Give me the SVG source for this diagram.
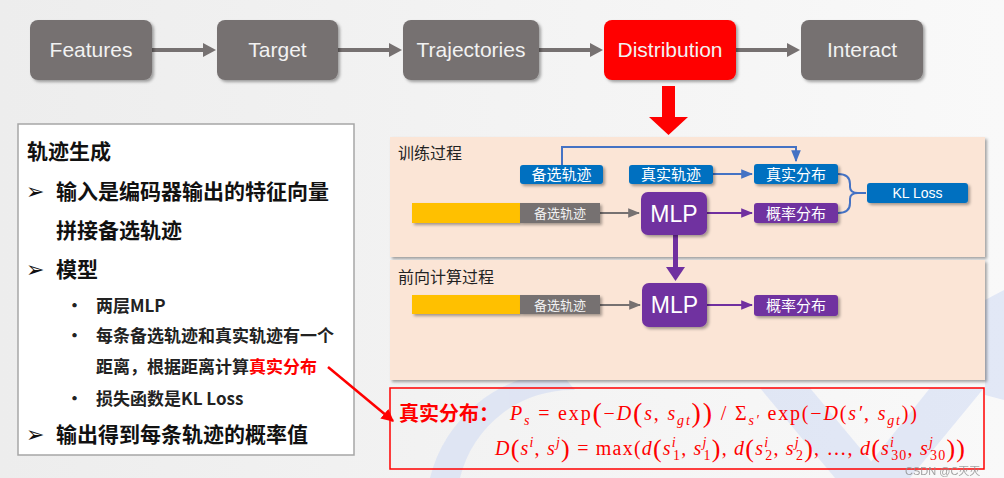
<svg xmlns="http://www.w3.org/2000/svg" width="1004" height="478" viewBox="0 0 1004 478">
<defs>
<linearGradient id="bg" x1="0" y1="0" x2="1" y2="0">
<stop offset="0" stop-color="#ededed"/>
<stop offset="1" stop-color="#f9f9f9"/>
</linearGradient>
<filter id="sh" x="-10%" y="-10%" width="130%" height="140%">
<feDropShadow dx="2" dy="2" stdDeviation="1.5" flood-color="#000" flood-opacity="0.35"/>
</filter>
<marker id="ag" viewBox="0 0 10 10" refX="9" refY="5" markerWidth="6" markerHeight="6" orient="auto"><path d="M0,1 L10,5 L0,9 z" fill="#767171"/></marker>
<marker id="ab" viewBox="0 0 10 10" refX="9" refY="5" markerWidth="6" markerHeight="6" orient="auto"><path d="M0,1 L10,5 L0,9 z" fill="#4472c4"/></marker>
<marker id="ap" viewBox="0 0 10 10" refX="9" refY="5" markerWidth="6" markerHeight="6" orient="auto"><path d="M0,1 L10,5 L0,9 z" fill="#7030a0"/></marker>
<marker id="ar" viewBox="0 0 10 10" refX="9" refY="5" markerWidth="5" markerHeight="5" orient="auto"><path d="M0,0 L10,5 L0,10 z" fill="#ff0000"/></marker>
</defs>
<style>
.top{fill:#767171;filter:url(#sh)}
.toptxt{font-family:"Liberation Sans",Arial,sans-serif;font-size:21px;fill:#f2f2f2;text-anchor:middle}
.lt{font-family:"Noto Sans CJK SC",sans-serif;font-size:21px;font-weight:bold;fill:#111}
.st{font-family:"Noto Sans CJK SC",sans-serif;font-size:17px;font-weight:bold;fill:#222}
.arw{font-family:"DejaVu Sans",sans-serif;font-size:22px;fill:#111}
.panel{fill:#fbe5d6;filter:url(#sh)}
.ptitle{font-family:"Noto Sans CJK SC",sans-serif;font-size:16px;fill:#222}
.bb{fill:#0070c0;filter:url(#sh)}
.pb{fill:#7030a0;filter:url(#sh)}
.gb{fill:#767171;filter:url(#sh)}
.yb{fill:#ffc000;filter:url(#sh)}
.wt{font-family:"Noto Sans CJK SC",sans-serif;font-size:15px;fill:#fff;text-anchor:middle}
.wts{font-family:"Noto Sans CJK SC",sans-serif;font-size:13px;fill:#f2f2f2;text-anchor:middle}
.mlp{font-family:"Liberation Sans",Arial,sans-serif;font-size:23px;fill:#fff;text-anchor:middle}
.math{font-family:"Liberation Serif","Times New Roman",serif;font-size:20px;fill:#ff0000}
.it{font-style:italic}
</style>
<rect x="0" y="0" width="1004" height="478" fill="url(#bg)"/>
<g id="decor" fill="#c7d4f3" opacity="0.45">
<path d="M430,478 A140,140 0 0 1 560,372 L575,390 A115,115 0 0 0 460,478 z"/>
<polygon points="760,388 810,388 885,478 835,478"/>
<polygon points="930,388 984,388 910,478 858,478"/>
<polygon points="985,300 1004,290 1004,400 985,395"/>
</g>

<g id="n-left">
<rect x="18" y="124" width="336" height="331" fill="#fff" stroke="#a6a6a6" stroke-width="1.5"/>
<text class="lt" x="27" y="159">轨迹生成</text>
<text class="arw" x="26" y="199">➢</text>
<text class="lt" x="56" y="199">输入是编码器输出的特征向量</text>
<text class="lt" x="56" y="238">拼接备选轨迹</text>
<text class="arw" x="26" y="277">➢</text>
<text class="lt" x="56" y="277">模型</text>
<text class="st" x="66" y="312">•</text>
<text class="st" x="96" y="312">两层MLP</text>
<text class="st" x="66" y="342">•</text>
<text class="st" x="96" y="342">每条备选轨迹和真实轨迹有一个</text>
<text class="st" x="96" y="373">距离，根据距离计算<tspan fill="#ff0000">真实分布</tspan></text>
<text class="st" x="66" y="405">•</text>
<text class="st" x="96" y="405">损失函数是KL Loss</text>
<text class="arw" x="26" y="442">➢</text>
<text class="lt" x="56" y="442">输出得到每条轨迹的概率值</text>
</g>

<g id="n-train">
<rect class="panel" x="390" y="137" width="595" height="120"/>
<text class="ptitle" x="398" y="159">训练过程</text>
</g>
<g id="n-forward">
<rect class="panel" x="390" y="260" width="595" height="120"/>
<text class="ptitle" x="398" y="283">前向计算过程</text>
</g>

<g id="connectors">
<g fill="#767171">
<rect x="152" y="48" width="52" height="4"/><polygon points="203,43 216,50 203,57"/>
<rect x="338" y="48" width="52" height="4"/><polygon points="389,43 402,50 389,57"/>
<rect x="539" y="48" width="52" height="4"/><polygon points="590,43 603,50 590,57"/>
<rect x="736" y="48" width="52" height="4"/><polygon points="787,43 800,50 787,57"/>
</g>
<polygon points="662,86 675,86 675,117 688,117 668.5,135 649,117 662,117" fill="#ff0000"/>
<path d="M562,165 V147 H796 V161" fill="none" stroke="#4472c4" stroke-width="2" marker-end="url(#ab)"/>
<line x1="713" y1="174" x2="752" y2="174" stroke="#4472c4" stroke-width="2" marker-end="url(#ab)"/>
<line x1="600" y1="213" x2="639" y2="213" stroke="#767171" stroke-width="2" marker-end="url(#ag)"/>
<line x1="707" y1="213" x2="752" y2="213" stroke="#7030a0" stroke-width="2" marker-end="url(#ap)"/>
<path d="M838,174 Q850,174 850,184 L850,187 Q850,193 858,193 Q850,193 850,199 L850,203 Q850,213 838,213" fill="none" stroke="#4472c4" stroke-width="2"/>
<line x1="858" y1="193" x2="866" y2="193" stroke="#4472c4" stroke-width="2"/>
<rect x="673" y="235" width="5" height="34" fill="#7030a0"/>
<polygon points="666,267 685,267 675.5,281" fill="#7030a0"/>
<line x1="600" y1="305" x2="640" y2="305" stroke="#767171" stroke-width="2" marker-end="url(#ag)"/>
<line x1="707" y1="305" x2="752" y2="305" stroke="#7030a0" stroke-width="2" marker-end="url(#ap)"/>
<line x1="328" y1="367" x2="393" y2="421" stroke="#ff0000" stroke-width="2.5" marker-end="url(#ar)"/>
</g>

<g id="n-features"><rect class="top" x="30" y="20" width="122" height="60" rx="8"/><text class="toptxt" x="91" y="57">Features</text></g>
<g id="n-target"><rect class="top" x="217" y="20" width="121" height="60" rx="8"/><text class="toptxt" x="277.5" y="57">Target</text></g>
<g id="n-trajectories"><rect class="top" x="403" y="20" width="136" height="60" rx="8"/><text class="toptxt" x="471" y="57">Trajectories</text></g>
<g id="n-distribution"><rect x="604" y="20" width="132" height="60" rx="8" fill="#ff0000" filter="url(#sh)"/><text class="toptxt" x="670" y="57">Distribution</text></g>
<g id="n-interact"><rect class="top" x="801" y="20" width="122" height="60" rx="8"/><text class="toptxt" x="862" y="57">Interact</text></g>

<g id="n-cand-blue"><rect class="bb" x="520" y="165" width="83" height="19" rx="3"/><text class="wt" x="561.5" y="180">备选轨迹</text></g>
<g id="n-gt-traj"><rect class="bb" x="629" y="165" width="84" height="19" rx="3"/><text class="wt" x="671" y="180">真实轨迹</text></g>
<g id="n-gt-dist"><rect class="bb" x="754" y="164" width="84" height="20" rx="3"/><text class="wt" x="796" y="179.5">真实分布</text></g>
<g id="n-kl"><rect class="bb" x="867" y="183" width="101" height="20" rx="3"/><text x="917.5" y="198" fill="#fff" font-family="Liberation Sans, Arial, sans-serif" font-size="14" text-anchor="middle">KL Loss</text></g>
<g id="n-prob1"><rect class="pb" x="754" y="203" width="84" height="20" rx="3"/><text class="wt" x="796" y="218.5">概率分布</text></g>
<g id="n-mlp1"><rect class="pb" x="641" y="192" width="66" height="43" rx="7"/><text class="mlp" x="674" y="221.5">MLP</text></g>
<g id="n-input1"><rect class="yb" x="412" y="203" width="108" height="20"/><rect class="gb" x="520" y="203" width="80" height="20"/><text class="wts" x="560" y="218">备选轨迹</text></g>

<g id="n-input2"><rect class="yb" x="412" y="295" width="108" height="19"/><rect class="gb" x="520" y="295" width="80" height="19"/><text class="wts" x="560" y="309.5">备选轨迹</text></g>
<g id="n-mlp2"><rect class="pb" x="642" y="283" width="65" height="44" rx="7"/><text class="mlp" x="674.5" y="313">MLP</text></g>
<g id="n-prob2"><rect class="pb" x="754" y="295" width="84" height="21" rx="3"/><text class="wt" x="796" y="311">概率分布</text></g>

<g id="n-formula">
<rect x="390" y="388" width="594" height="81" fill="none" stroke="#ff0000" stroke-width="1.5"/>
<text x="399" y="421" fill="#ff0000" font-family="Noto Sans CJK SC, sans-serif" font-size="20" font-weight="bold">真实分布：</text>
<text class="math" x="510" y="420" textLength="407" lengthAdjust="spacing"><tspan class="it">P</tspan><tspan class="it" font-size="14" dy="5">s</tspan><tspan dy="-5"> = exp</tspan><tspan font-size="28" dy="2">(</tspan><tspan dy="-2">−</tspan><tspan class="it">D</tspan><tspan font-size="28" dy="2">(</tspan><tspan class="it" dy="-2">s</tspan><tspan>, </tspan><tspan class="it">s</tspan><tspan class="it" font-size="14" dy="5">gt</tspan><tspan font-size="28" dy="-3">))</tspan><tspan dy="-2"> / </tspan><tspan>Σ</tspan><tspan class="it" font-size="14" dy="5">s′</tspan><tspan dy="-5"> exp(−</tspan><tspan class="it">D</tspan><tspan>(</tspan><tspan class="it">s′</tspan><tspan>, </tspan><tspan class="it">s</tspan><tspan class="it" font-size="14" dy="5">gt</tspan><tspan dy="-5">))</tspan></text>
<text class="math" x="495" y="455" textLength="470" lengthAdjust="spacing"><tspan class="it">D</tspan><tspan font-size="26" dy="2">(</tspan><tspan class="it" dy="-2">s</tspan><tspan class="it" font-size="14" dy="-8">i</tspan><tspan dy="8">, </tspan><tspan class="it">s</tspan><tspan class="it" font-size="14" dy="-8">j</tspan><tspan font-size="26" dy="10">)</tspan><tspan dy="-2"> = max(</tspan><tspan class="it">d</tspan><tspan font-size="26" dy="2">(</tspan><tspan class="it" dy="-2">s</tspan><tspan class="it" font-size="14" dy="-8">i</tspan><tspan font-size="14" dx="-4" dy="13">1</tspan><tspan dy="-5">, </tspan><tspan class="it">s</tspan><tspan class="it" font-size="14" dy="-8">j</tspan><tspan font-size="14" dx="-4" dy="13">1</tspan><tspan font-size="26" dy="-3">)</tspan><tspan dy="-2">, </tspan><tspan class="it">d</tspan><tspan font-size="26" dy="2">(</tspan><tspan class="it" dy="-2">s</tspan><tspan class="it" font-size="14" dy="-8">i</tspan><tspan font-size="14" dx="-4" dy="13">2</tspan><tspan dy="-5">, </tspan><tspan class="it">s</tspan><tspan class="it" font-size="14" dy="-8">j</tspan><tspan font-size="14" dx="-4" dy="13">2</tspan><tspan font-size="26" dy="-3">)</tspan><tspan dy="-2">, …, </tspan><tspan class="it">d</tspan><tspan font-size="26" dy="2">(</tspan><tspan class="it" dy="-2">s</tspan><tspan class="it" font-size="14" dy="-8">i</tspan><tspan font-size="14" dx="-4" dy="13">30</tspan><tspan dy="-5">, </tspan><tspan class="it">s</tspan><tspan class="it" font-size="14" dy="-8">j</tspan><tspan font-size="14" dx="-4" dy="13">30</tspan><tspan font-size="26" dy="-3">))</tspan></text>
</g>
<text x="905" y="475" fill="#8c8c8c" opacity="0.8" font-family="Liberation Sans, Noto Sans CJK SC, sans-serif" font-size="11">CSDN @C灭灭</text>
</svg>
